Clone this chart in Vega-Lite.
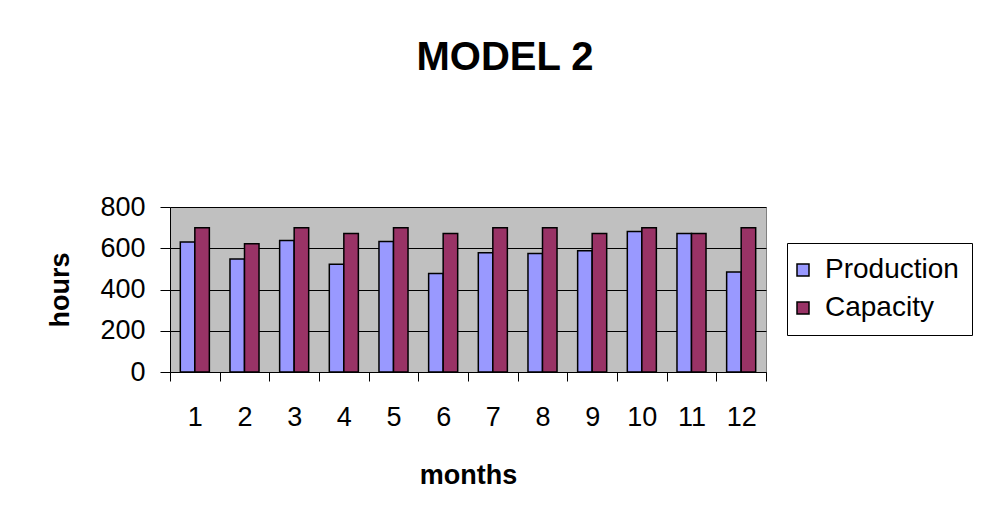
{
  "$schema": "https://vega.github.io/schema/vega-lite/v6.json",
  "autosize": "none",
  "width": 596,
  "height": 165,
  "padding": {"left": 170, "top": 207, "right": 224, "bottom": 143},
  "background": "white",
  "title": {"text": "MODEL 2", "font": "Liberation Sans", "fontSize": 40, "fontWeight": "bold", "color": "black", "anchor": "middle", "frame": "group", "dx": 37, "offset": 83, "baseline": "alphabetic"},
  "data": {"values": [
    {"month": 1, "series": "Production", "value": 630}, {"month": 1, "series": "Capacity", "value": 700},
    {"month": 2, "series": "Production", "value": 548}, {"month": 2, "series": "Capacity", "value": 622},
    {"month": 3, "series": "Production", "value": 638}, {"month": 3, "series": "Capacity", "value": 700},
    {"month": 4, "series": "Production", "value": 523}, {"month": 4, "series": "Capacity", "value": 672},
    {"month": 5, "series": "Production", "value": 633}, {"month": 5, "series": "Capacity", "value": 700},
    {"month": 6, "series": "Production", "value": 478}, {"month": 6, "series": "Capacity", "value": 672},
    {"month": 7, "series": "Production", "value": 578}, {"month": 7, "series": "Capacity", "value": 700},
    {"month": 8, "series": "Production", "value": 574}, {"month": 8, "series": "Capacity", "value": 700},
    {"month": 9, "series": "Production", "value": 588}, {"month": 9, "series": "Capacity", "value": 672},
    {"month": 10, "series": "Production", "value": 681}, {"month": 10, "series": "Capacity", "value": 700},
    {"month": 11, "series": "Production", "value": 672}, {"month": 11, "series": "Capacity", "value": 672},
    {"month": 12, "series": "Production", "value": 485}, {"month": 12, "series": "Capacity", "value": 700}
  ]},
  "mark": {"type": "bar", "stroke": "black", "strokeWidth": 1.5},
  "encoding": {
    "x": {"field": "month", "type": "ordinal", "scale": {"paddingInner": 0, "paddingOuter": 0},
      "axis": {"title": "months", "labelAngle": 0, "tickBand": "extent", "tickSize": 9, "labelPadding": 23, "labelBaseline": "top", "grid": false,
        "titleX": 298, "titleY": 111, "titleBaseline": "alphabetic", "titleAlign": "center"}},
    "xOffset": {"field": "series", "type": "nominal", "sort": ["Production", "Capacity"], "scale": {"paddingInner": 0, "paddingOuter": 0.71}},
    "y": {"field": "value", "type": "quantitative", "scale": {"domain": [0, 800], "nice": false},
      "axis": {"title": "hours", "values": [0, 200, 400, 600, 800], "tickSize": 10, "labelPadding": 15, "grid": true,
        "titleX": -102, "titleY": 82.5, "titleAngle": -90, "titleBaseline": "alphabetic", "titleAlign": "center"}},
    "color": {"field": "series", "type": "nominal", "sort": ["Production", "Capacity"],
      "scale": {"domain": ["Production", "Capacity"], "range": ["#9999FF", "#993366"]},
      "legend": {"orient": "none", "legendX": 617, "legendY": 36, "title": null, "strokeColor": "black", "fillColor": "white",
        "padding": 13, "symbolType": "square", "symbolSize": 144, "symbolStrokeColor": "black", "symbolStrokeWidth": 1.5,
        "symbolOffset": -11, "symbolOpacity": 1, "labelFontSize": 28, "labelFont": "Liberation Sans", "labelColor": "black", "labelOffset": 8, "rowPadding": 10}}
  },
  "config": {
    "view": {"fill": "#C0C0C0", "stroke": "#808080", "strokeWidth": 1},
    "axis": {"labelFont": "Liberation Sans", "titleFont": "Liberation Sans", "labelColor": "black", "titleColor": "black",
      "domainColor": "black", "tickColor": "black", "gridColor": "black", "gridOpacity": 1, "gridWidth": 1, "tickWidth": 1, "domainWidth": 1,
      "labelFontSize": 27, "titleFontSize": 27, "titleFontWeight": "bold"}
  }
}
